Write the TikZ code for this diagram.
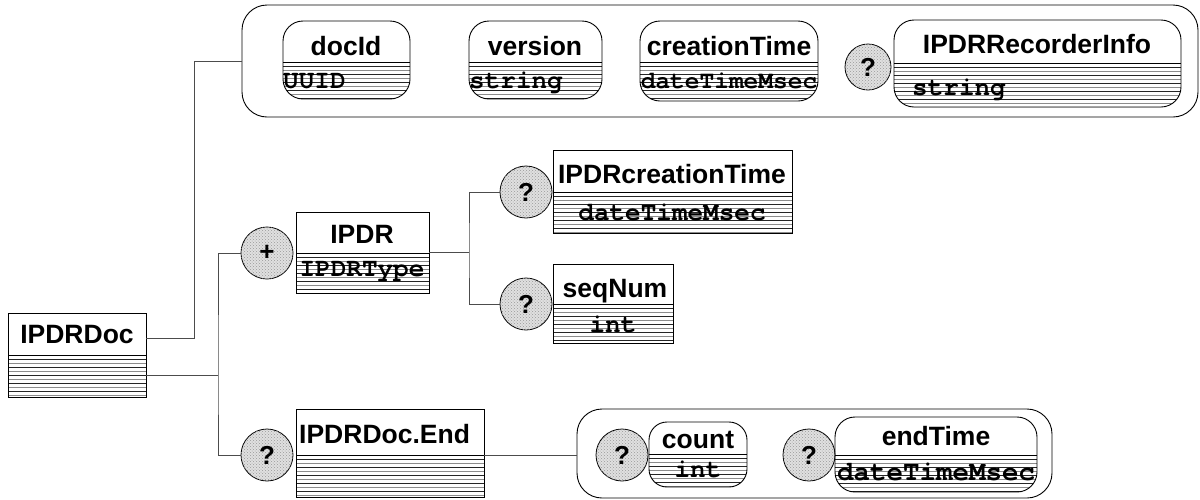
\documentclass[tikz,border=0pt]{standalone}
\usepackage{fontspec}
\setmainfont{Liberation Sans}
\setmonofont{TeX Gyre Cursor}
\usetikzlibrary{patterns,calc}

\tikzset{
  outline/.style={draw=black, line width=0.9pt},
  conn/.style={draw=black!70, line width=1pt},
  titletext/.style={font=\fontsize{26.5}{30}\selectfont\bfseries, inner sep=0pt},
  typetext/.style={font=\fontsize{26}{30}\selectfont\ttfamily\bfseries, inner sep=0pt},
  optional/.style={circle, draw=black, line width=0.8pt, fill=black!12,
    postaction={pattern=crosshatch dots, pattern color=black!40},
    inner sep=0pt, font=\fontsize{26}{30}\selectfont\bfseries},
  groupbox/.style={draw=black, line width=0.9pt, rounded corners=25pt,
    inner sep=0pt, outer sep=0pt, anchor=north west},
}

% element frame: name, x1, y1, x2, y2, divider y, corner radius
\newcommand\elemframe[7]{%
  \pgfmathsetmacro\ew{#4-#2}%
  \pgfmathsetmacro\eh{#5-#3}%
  \node[minimum width=\ew pt, minimum height=\eh pt, inner sep=0pt,
        outer sep=0pt, anchor=north west] (#1) at (#2,#3) {};
  \begin{scope}
    \clip[rounded corners=#7pt] (#2,#3) rectangle (#4,#5);
    \pgfmathsetmacro\ya{#6+4}\pgfmathsetmacro\yb{#6+8}%
    \foreach \yy [count=\i] in {\ya,\yb,...,#5} {
      \pgfmathtruncatemacro\gv{mod(\i,2)==1 ? 85 : 45}
      \draw[line width=0.7pt, black!\gv] (#2,\yy) -- (#4,\yy);
    }
    \draw[line width=0.9pt] (#2,#6) -- (#4,#6);
  \end{scope}
  \draw[outline, rounded corners=#7pt] (#2,#3) rectangle (#4,#5);
}

\begin{document}
\begin{tikzpicture}[x=1pt,y=-1pt]
\useasboundingbox (0,0) rectangle (1200,499);

% root element
\elemframe{ipdrdoc}{8}{313}{146}{397}{355}{0}
\node[titletext, anchor=base] (t-ipdrdoc) at (77,343) {IPDRDoc};

% sequence of header attributes
\node[groupbox, minimum width=956pt, minimum height=112pt] (topgroup) at (242,5) {};

\elemframe{docid}{283}{21}{410}{99}{62}{20}
\node[titletext, anchor=base] (t-docid) at (346,55) {docId};
\node[typetext, anchor=base west] (y-docid) at (283,88) {UUID};

\elemframe{version}{469}{21}{602}{99}{62}{20}
\node[titletext, anchor=base] (t-version) at (535,55) {version};
\node[typetext, anchor=base west] (y-version) at (469,88) {string};

\elemframe{ctime}{640}{21}{818}{101}{62}{20}
\node[titletext, anchor=base] (t-ctime) at (729,55) {creationTime};
\node[typetext, font=\fontsize{24.5}{28}\selectfont\ttfamily\bfseries, anchor=base] (y-ctime) at (729,88) {dateTimeMsec};

\node[optional, minimum size=46pt] (qrec) at (868,67) {?};
\elemframe{recinfo}{894}{20}{1181}{107}{63}{20}
\node[titletext, anchor=base] (t-recinfo) at (1037,53) {IPDRRecorderInfo};
\node[typetext, anchor=base west] (y-recinfo) at (912,95) {string};

% IPDR records
\node[optional, minimum size=52pt] (plus) at (267,253) {+};
\elemframe{ipdr}{296}{212}{429}{293}{253}{0}
\node[titletext, anchor=base] (t-ipdr) at (362,243) {IPDR};
\node[typetext, anchor=base] (y-ipdr) at (362,276) {IPDRType};

\node[optional, minimum size=52pt] (qict) at (526,192) {?};
\elemframe{ictime}{553}{150}{792}{233}{192}{0}
\node[titletext, anchor=base] (t-ictime) at (672,183) {IPDRcreationTime};
\node[typetext, anchor=base] (y-ictime) at (672,220) {dateTimeMsec};

\node[optional, minimum size=52pt] (qseq) at (526,304) {?};
\elemframe{seqnum}{553}{264}{673}{343}{304}{0}
\node[titletext, anchor=base] (t-seqnum) at (615,297) {seqNum};
\node[typetext, anchor=base] (y-seqnum) at (613,332) {int};

% trailer element
\node[optional, minimum size=52pt] (qend) at (267,455) {?};
\elemframe{docend}{296}{409}{484}{497}{455}{0}
\node[titletext, anchor=base west] (t-docend) at (299,443) {IPDRDoc.End};

\node[groupbox, minimum width=475pt, minimum height=89pt] (endgroup) at (577,409) {};

\node[optional, minimum size=52pt] (qcount) at (622,455) {?};
\elemframe{count}{649}{422}{747}{487}{454}{18}
\node[titletext, anchor=base] (t-count) at (698,448) {count};
\node[typetext, anchor=base] (y-count) at (698,477) {int};

\node[optional, minimum size=52pt] (qetime) at (809,455) {?};
\elemframe{etime}{835}{417}{1037}{492}{455}{20}
\node[titletext, anchor=base] (t-etime) at (936,445) {endTime};
\node[typetext, font=\fontsize{27.5}{30}\selectfont\ttfamily\bfseries, anchor=base] (y-etime) at (936,480) {dateTimeMsec};

% connectors
\draw[conn] ([yshift=17pt]ipdrdoc.east) -- ++(48pt,0) |- (topgroup.west);
\draw[conn] ([yshift=-20pt]ipdrdoc.east) -- ++(72pt,0);
\draw[conn] (plus.west) -| ([xshift=72pt,yshift=-20pt]ipdrdoc.east) |- (qend.west);
\draw[conn] (ipdr.east) -- ++(40pt,0);
\draw[conn] (qict.west) -| ([xshift=40pt]ipdr.east) |- (qseq.west);
\draw[conn] (docend.east |- qend.center) -- (endgroup.west |- qend.center);
\end{tikzpicture}
\end{document}
